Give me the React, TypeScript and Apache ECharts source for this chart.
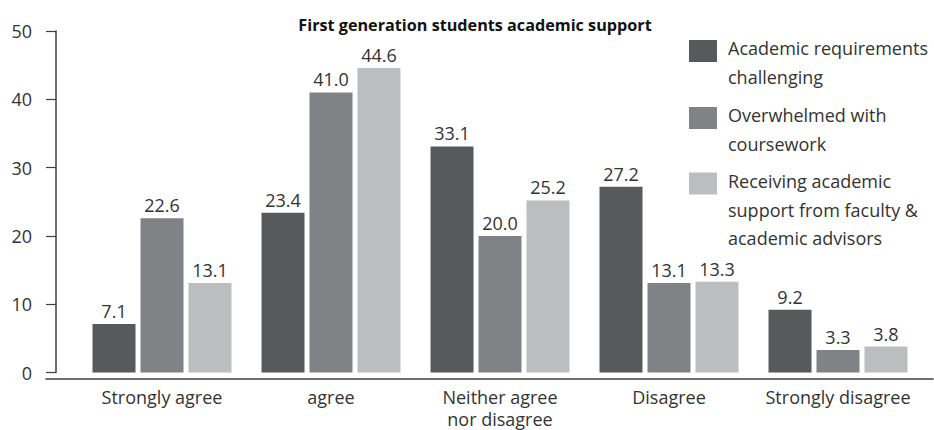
import React, { useEffect, useRef } from "react";
import * as echarts from "echarts";

const categories = ["Strongly agree", "agree", "Neither agree\nnor disagree", "Disagree", "Strongly disagree"];
const seriesNames = [
  "Academic requirements\nchallenging",
  "Overwhelmed with\ncoursework",
  "Receiving academic\nsupport from faculty &\nacademic advisors",
];
const requirementsChallenging = [7.1, 23.4, 33.1, 27.2, 9.2];
const overwhelmedCoursework = [22.6, 41.0, 20.0, 13.1, 3.3];
const receivingSupport = [13.1, 44.6, 25.2, 13.3, 3.8];
const colors = ["#58595b", "#818285", "#bcbdbf"];
const yTicks = { min: 0, max: 50, interval: 10 };

const FONT = "'Open Sans', sans-serif";
const TEXT = "#333333";

export default function App() {
  const ref = useRef<HTMLDivElement>(null);
  useEffect(() => {
    if (!ref.current) return;
    const chart = echarts.init(ref.current, undefined, { renderer: "svg" });
    const values = [requirementsChallenging, overwhelmedCoursework, receivingSupport];
    // a spacer line above each legend text pushes its first line level with the swatch
    const legendTops = [11.25, 78.25, 114.75];
    const spacer = ["s1", "s1", "s2"];
    chart.setOption({
      animation: false,
      textStyle: { fontFamily: FONT },
      title: {
        text: "First generation students academic support",
        left: 470,
        textAlign: "center",
        top: 12,
        textStyle: { fontFamily: FONT, fontWeight: "bold", fontSize: 16.2, color: "#111" },
      },
      legend: seriesNames.map((n, i) => ({
        data: [n],
        formatter: (name: string) => "{" + spacer[i] + "| }\n" + name,
        left: 689,
        top: legendTops[i],
        padding: 0,
        orient: "vertical",
        itemWidth: 28,
        itemHeight: 22,
        icon: "rect",
        selectedMode: false,
        textStyle: {
          fontFamily: FONT,
          fontSize: 18,
          color: TEXT,
          lineHeight: 28.5,
          padding: [0, 0, 0, 6],
          rich: {
            s1: { lineHeight: 22.5, fontSize: 10 },
            s2: { lineHeight: 52, fontSize: 10 },
          },
        },
      })),
      grid: [
        { left: 77.5, right: 11.5, top: 31, bottom: 51 },
        { left: 46, right: 1, top: 31, bottom: 51 },
      ],
      xAxis: [
        {
          type: "category",
          data: categories,
          gridIndex: 0,
          axisLine: { show: false },
          axisTick: { show: false },
          axisLabel: { fontFamily: FONT, fontSize: 18, color: TEXT, margin: 13.5, lineHeight: 22, interval: 0 },
        },
        {
          type: "value",
          gridIndex: 1,
          min: 0,
          max: 1,
          axisLine: { show: true, lineStyle: { color: "#404040", width: 1.5 } },
          axisTick: { show: false },
          axisLabel: { show: false },
          splitLine: { show: false },
        },
      ],
      yAxis: [
        {
          type: "value",
          gridIndex: 0,
          min: yTicks.min,
          max: yTicks.max,
          interval: yTicks.interval,
          offset: 21.5,
          axisLine: { show: true, lineStyle: { color: "#404040", width: 1.5 } },
          axisTick: { show: true, length: 10, lineStyle: { color: "#404040", width: 1.2 } },
          axisLabel: { fontFamily: FONT, fontSize: 18, color: TEXT, margin: 24 },
          splitLine: { show: false },
        },
        {
          type: "value",
          gridIndex: 1,
          show: false,
        },
      ],
      series: seriesNames.map((n, i) => ({
        name: n,
        type: "bar",
        xAxisIndex: 0,
        yAxisIndex: 0,
        data: values[i],
        barWidth: 43,
        barGap: "11.6%",
        itemStyle: { color: colors[i] },
        label: {
          show: true,
          position: "top",
          distance: 4,
          formatter: (p: any) => Number(p.value).toFixed(1),
          fontFamily: FONT,
          fontSize: 18,
          color: TEXT,
        },
      })),
    });
    return () => chart.dispose();
  }, []);
  return <div ref={ref} style={{ position: "absolute", left: 0, top: 0, width: 934, height: 430 }} />;
}
